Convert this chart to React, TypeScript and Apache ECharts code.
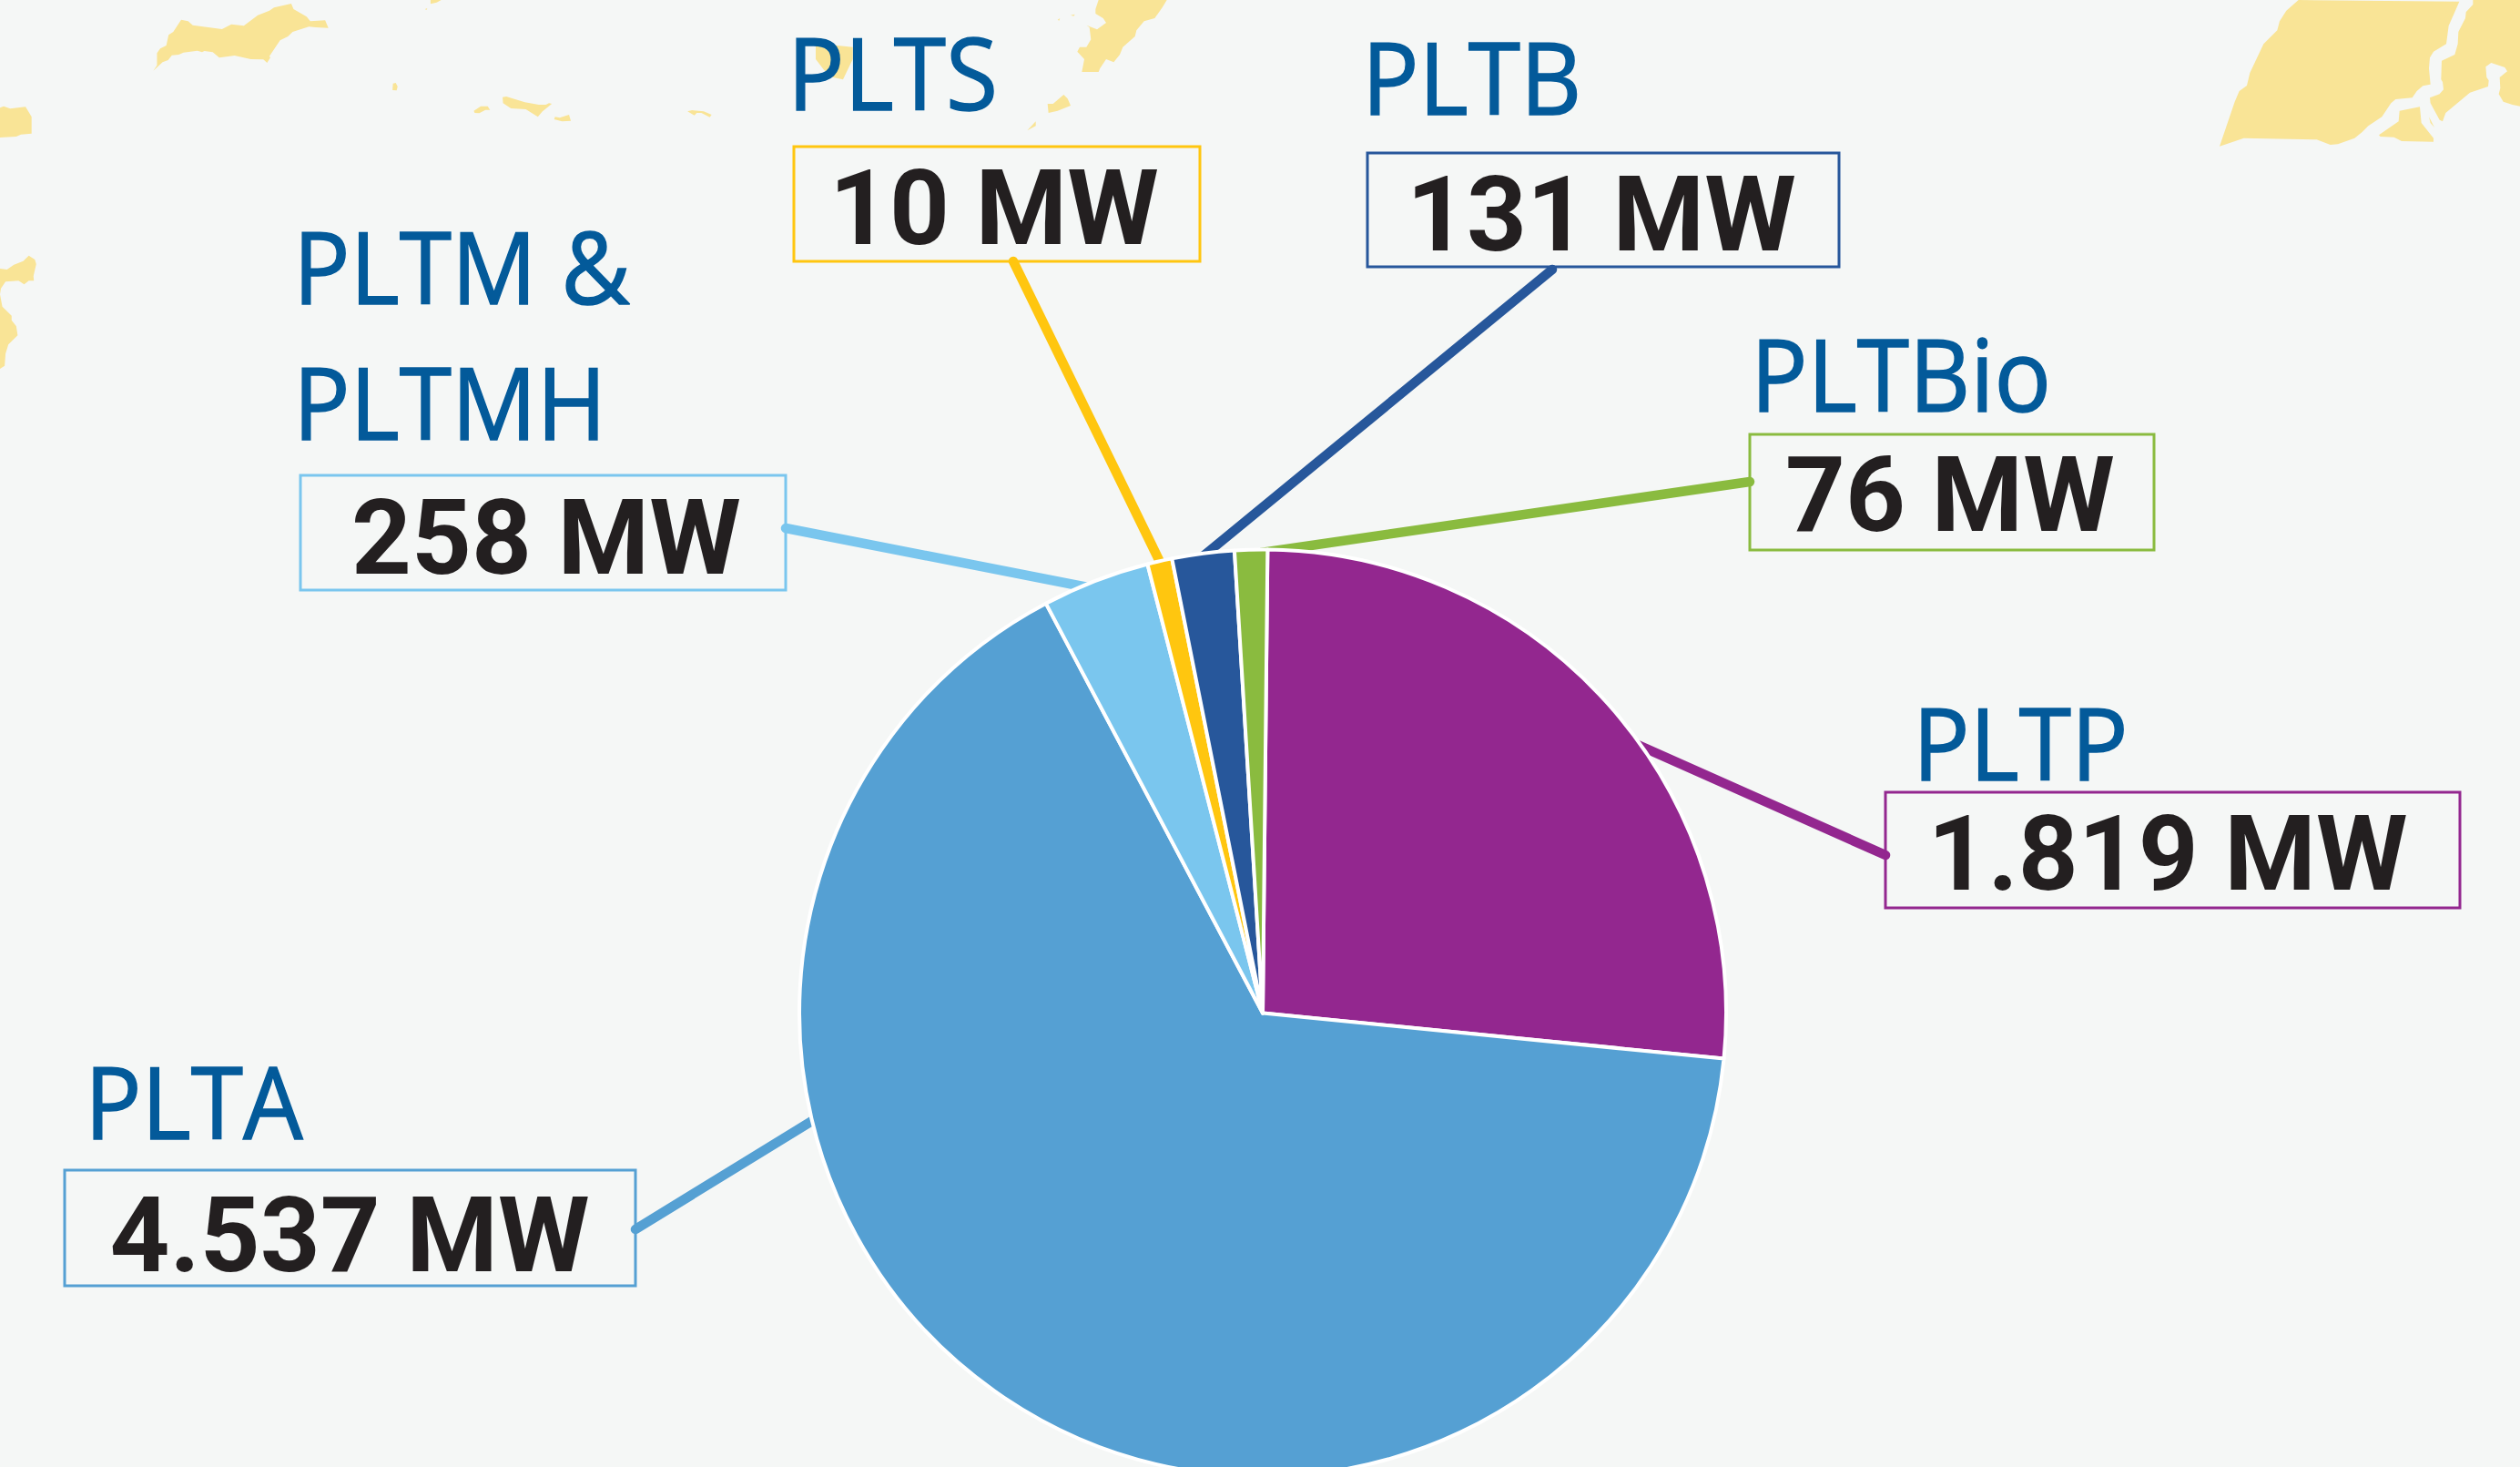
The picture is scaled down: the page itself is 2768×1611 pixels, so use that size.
import React, { useEffect, useRef } from "react";
import * as echarts from "echarts";

// Slices run clockwise from just right of twelve o'clock, in the order drawn.
const categories = ["PLTP", "PLTA", "PLTM & PLTMH", "PLTS", "PLTB", "PLTBio"];
// Angular share of each slice (degrees out of 360).
const sliceShares = [95.05, 236.45, 13.5, 3.1, 7.8, 4.1];
const capacityLabels = ["1.819 MW", "4.537 MW", "258 MW", "10 MW", "131 MW", "76 MW"];
const sliceColors = ["#93278F", "#55A0D3", "#7AC6EE", "#FFC60F", "#27579B", "#8ABB3F"];

const BG = "#F5F7F6";
const LAND = "#F9E496";
const LABEL = "#035A9A";
const VALUE = "#231F20";
const LABEL_FONT = '"Open Sans"';
const VALUE_FONT = "Roboto";

type Note = {
  lines: { text: string; x: number; base: number }[];
  box: [number, number, number, number];
  valueCx: number;
  valueCy: number;
  leader: [number, number, number, number];
};
const notes: Note[] = [
  { lines: [{ text: "PLTP", x: 2101, base: 853 }], box: [2071, 870, 2702, 997], valueCx: 2381, valueCy: 937, leader: [2071, 939, 1790, 814] },
  { lines: [{ text: "PLTA", x: 93, base: 1247 }], box: [71, 1285, 698, 1412], valueCx: 384, valueCy: 1356, leader: [698, 1350, 900, 1226] },
  { lines: [{ text: "PLTM &", x: 322, base: 330 }, { text: "PLTMH", x: 322, base: 479 }], box: [330, 522, 863, 648], valueCx: 600, valueCy: 590, leader: [863, 580, 1200, 646] },
  { lines: [{ text: "PLTS", x: 865, base: 117 }], box: [872, 161, 1318, 287], valueCx: 1092, valueCy: 228, leader: [1113, 287, 1278, 625] },
  { lines: [{ text: "PLTB", x: 1496, base: 122 }], box: [1502, 168, 2020, 293], valueCx: 1759, valueCy: 235, leader: [1705, 296, 1320, 612] },
  { lines: [{ text: "PLTBio", x: 1923, base: 448 }], box: [1922, 477, 2366, 604], valueCx: 2142, valueCy: 543, leader: [1922, 529, 1385, 607] },
];

// Decorative map fragments behind the chart: [offsetX, offsetY, scaleX, scaleY, flat points]
const land: [number, number, number, number, number[]][] = [
  [0, 0, 1.96, 3, [330,233,338,215,338,175,345,160,358,150,363,115,373,105,390,65,405,70,415,83,478,96,498,80,525,85,555,50,580,35,590,25,627,12,632,30,660,55,668,70,700,67,707,92,680,90,665,88,630,105,620,120,603,133,580,185,582,190,575,207,567,196,540,195,505,183,472,190,458,172,440,168,435,172,425,167,395,173,385,180,370,182,362,198,350,205]],
  [0, 0, 1.96, 3, [0,355,8,350,22,358,55,352,68,385,68,440,45,443,35,450,0,453]],
  [0, 0, 1.96, 3, [0,885,15,888,30,872,50,860,62,842,75,855,78,870,72,910,73,925,62,925,52,937,40,925,12,928,2,950,0,970,5,1010,25,1040,25,1055,35,1075,38,1105,18,1135,12,1165,10,1205,0,1215]],
  [0, 0, 1.96, 3, [846,275,852,273,856,285,854,298,845,297]],
  [0, 0, 1.96, 3, [1020,365,1035,350,1050,350,1055,362,1045,362,1032,373,1022,372]],
  [0, 0, 1.96, 3, [1082,320,1090,318,1130,337,1160,345,1175,345,1182,340,1188,342,1168,367,1158,385,1132,360,1100,357,1083,340]],
  [0, 0, 1.96, 3, [1195,385,1205,388,1225,378,1229,398,1210,400,1193,393]],
  [0, 0, 1.96, 3, [1480,367,1490,363,1515,367,1532,378,1528,386,1510,372,1500,372,1495,380]],
  [0, 0, 1.96, 3, [927,0,950,0,940,8,927,13]],
  [0, 0, 1.96, 3, [915,30,920,27,918,33]],
  [840, 0, 3, 3, [168,150,175,143,240,150,290,155,290,195,258,262,225,255,195,230,168,195]],
  [840, 0, 3, 3, [1100,0,1325,0,1310,25,1285,60,1250,70,1225,100,1220,120,1180,155,1170,180,1150,205,1125,195,1105,225,1100,237,1045,237,1053,195,1030,170,1038,155,1060,155,1075,130,1070,90,1060,83,1095,97,1125,75,1115,60,1090,45,1090,30]],
  [840, 0, 3, 3, [932,342,950,342,985,312,998,325,1008,348,965,365,935,372]],
  [840, 0, 3, 3, [865,430,893,400,893,415]],
  [840, 0, 3, 3, [965,65,973,60,970,68]],
  [840, 0, 3, 3, [1008,50,1022,47,1018,53]],
  [2368, 0, 3, 3, [210,482,260,335,275,300,300,282,310,240,355,145,400,100,408,70,430,35,470,0,1000,5,985,40,965,85,957,145,915,170,903,190,900,225,905,278,880,283,860,300,845,322,790,327,775,340,745,385,700,415,680,435,655,455,600,475,575,477,530,460,290,455]],
  [2368, 0, 3, 3, [1045,0,1200,0,1200,350,1175,345,1145,335,1130,310,1135,290,1133,255,1158,235,1150,222,1105,207,1087,220,1090,255,1097,265,1095,285,1035,305,955,372,945,400,935,395,905,340,903,322,935,310,948,295,945,270,940,262,942,200,985,180,995,145,997,105,1020,60,1022,40,1045,15]],
  [2368, 0, 3, 3, [735,445,800,400,803,365,870,352,875,405,915,455,915,467,810,465,785,452,740,450]],
  [2368, 0, 3, 3, [900,385,918,420,905,405]],
];

function buildGraphic(): any[] {
  const out: any[] = [];
  land.forEach(([ox, oy, sx, sy, flat]) => {
    const points: number[][] = [];
    for (let i = 0; i < flat.length; i += 2) points.push([ox + flat[i] / sx, oy + flat[i + 1] / sy]);
    out.push({ type: "polygon", z: 0, silent: true, shape: { points }, style: { fill: LAND } });
  });
  notes.forEach((n, i) => {
    const color = sliceColors[i];
    const [x1, y1, x2, y2] = n.box;
    const [lx1, ly1, lx2, ly2] = n.leader;
    out.push({
      type: "line", z: 1, silent: true,
      shape: { x1: lx1, y1: ly1, x2: lx2, y2: ly2 },
      style: { stroke: color, lineWidth: 10.5, lineCap: "round" },
    });
    out.push({
      type: "rect", z: 1, silent: true,
      shape: { x: x1, y: y1, width: x2 - x1, height: y2 - y1 },
      style: { fill: "none", stroke: color, lineWidth: 3 },
    });
    out.push({
      type: "text", z: 5, silent: true,
      x: n.valueCx, y: n.valueCy,
      style: {
        text: capacityLabels[i], fill: VALUE,
        font: `700 115px ${VALUE_FONT}`, textAlign: "center", textVerticalAlign: "middle",
      },
    });
    n.lines.forEach((l) => {
      out.push({
        type: "text", z: 5, silent: true,
        x: l.x, y: l.base - 39, scaleX: 0.945,
        style: {
          text: l.text, fill: LABEL, stroke: LABEL, lineWidth: 1.5,
          font: `400 110px ${LABEL_FONT}`, textAlign: "left", textVerticalAlign: "middle",
        },
      });
    });
  });
  return out;
}

export default function App() {
  const ref = useRef<HTMLDivElement>(null);
  useEffect(() => {
    document.body.style.margin = "0";
    document.body.style.overflow = "hidden";
    const chart = echarts.init(ref.current!, null, { renderer: "svg" });
    chart.setOption({
      animation: false,
      backgroundColor: BG,
      graphic: { elements: buildGraphic() },
      series: [
        {
          type: "pie",
          z: 2,
          center: [1387, 1112.5],
          radius: [0, 509],
          startAngle: 89.4,
          clockwise: true,
          silent: true,
          label: { show: false },
          labelLine: { show: false },
          itemStyle: { borderColor: "#FFFFFF", borderWidth: 4 },
          data: categories.map((name, i) => ({
            name,
            value: sliceShares[i],
            itemStyle: { color: sliceColors[i] },
          })),
        },
      ],
    });
    return () => chart.dispose();
  }, []);
  return <div ref={ref} style={{ width: 2768, height: 1611 }} />;
}
